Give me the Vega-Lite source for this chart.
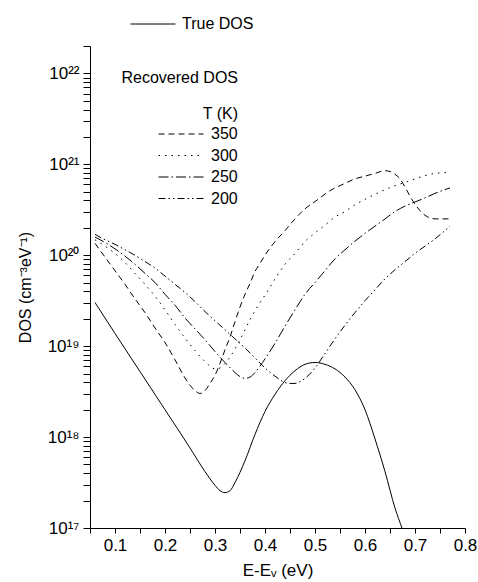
{
  "$schema": "https://vega.github.io/schema/vega-lite/v6.json",
  "width": 375,
  "height": 482,
  "autosize": "none",
  "padding": {"left": 90, "top": 46, "right": 13, "bottom": 54},
  "background": "white",
  "config": {
    "view": {"stroke": null},
    "font": "Liberation Sans",
    "legend": {"labelFont": "Liberation Sans", "titleFont": "Liberation Sans", "labelFontSize": 16, "titleFontSize": 16, "titleFontWeight": "normal", "labelColor": "black", "titleColor": "black"}
  },
  "data": {"values": [
    {"series": "True DOS", "E": 0.06, "DOS": 3.02e19},
    {"series": "True DOS", "E": 0.10, "DOS": 1.38e19},
    {"series": "True DOS", "E": 0.15, "DOS": 5.25e18},
    {"series": "True DOS", "E": 0.20, "DOS": 2.00e18},
    {"series": "True DOS", "E": 0.25, "DOS": 7.59e17},
    {"series": "True DOS", "E": 0.28, "DOS": 4.17e17},
    {"series": "True DOS", "E": 0.30, "DOS": 2.95e17},
    {"series": "True DOS", "E": 0.31, "DOS": 2.57e17},
    {"series": "True DOS", "E": 0.32, "DOS": 2.45e17},
    {"series": "True DOS", "E": 0.33, "DOS": 2.57e17},
    {"series": "True DOS", "E": 0.34, "DOS": 3.16e17},
    {"series": "True DOS", "E": 0.36, "DOS": 5.50e17},
    {"series": "True DOS", "E": 0.38, "DOS": 1.07e18},
    {"series": "True DOS", "E": 0.40, "DOS": 1.91e18},
    {"series": "True DOS", "E": 0.42, "DOS": 2.95e18},
    {"series": "True DOS", "E": 0.44, "DOS": 4.17e18},
    {"series": "True DOS", "E": 0.46, "DOS": 5.37e18},
    {"series": "True DOS", "E": 0.48, "DOS": 6.31e18},
    {"series": "True DOS", "E": 0.50, "DOS": 6.61e18},
    {"series": "True DOS", "E": 0.52, "DOS": 6.31e18},
    {"series": "True DOS", "E": 0.54, "DOS": 5.62e18},
    {"series": "True DOS", "E": 0.56, "DOS": 4.57e18},
    {"series": "True DOS", "E": 0.58, "DOS": 3.31e18},
    {"series": "True DOS", "E": 0.60, "DOS": 2.00e18},
    {"series": "True DOS", "E": 0.62, "DOS": 9.55e17},
    {"series": "True DOS", "E": 0.64, "DOS": 4.17e17},
    {"series": "True DOS", "E": 0.66, "DOS": 1.66e17},
    {"series": "True DOS", "E": 0.674, "DOS": 1.0e17},

    {"series": "350", "E": 0.06, "DOS": 1.35e20},
    {"series": "350", "E": 0.08, "DOS": 9.55e19},
    {"series": "350", "E": 0.10, "DOS": 6.76e19},
    {"series": "350", "E": 0.12, "DOS": 4.79e19},
    {"series": "350", "E": 0.14, "DOS": 3.31e19},
    {"series": "350", "E": 0.16, "DOS": 2.34e19},
    {"series": "350", "E": 0.18, "DOS": 1.585e19},
    {"series": "350", "E": 0.20, "DOS": 1.096e19},
    {"series": "350", "E": 0.22, "DOS": 7.08e18},
    {"series": "350", "E": 0.24, "DOS": 4.47e18},
    {"series": "350", "E": 0.25, "DOS": 3.72e18},
    {"series": "350", "E": 0.26, "DOS": 3.24e18},
    {"series": "350", "E": 0.27, "DOS": 3.02e18},
    {"series": "350", "E": 0.28, "DOS": 3.24e18},
    {"series": "350", "E": 0.29, "DOS": 3.89e18},
    {"series": "350", "E": 0.30, "DOS": 4.79e18},
    {"series": "350", "E": 0.31, "DOS": 6.46e18},
    {"series": "350", "E": 0.32, "DOS": 9.12e18},
    {"series": "350", "E": 0.33, "DOS": 1.259e19},
    {"series": "350", "E": 0.34, "DOS": 1.862e19},
    {"series": "350", "E": 0.35, "DOS": 2.69e19},
    {"series": "350", "E": 0.36, "DOS": 3.72e19},
    {"series": "350", "E": 0.37, "DOS": 4.90e19},
    {"series": "350", "E": 0.38, "DOS": 6.61e19},
    {"series": "350", "E": 0.39, "DOS": 8.13e19},
    {"series": "350", "E": 0.40, "DOS": 1.00e20},
    {"series": "350", "E": 0.42, "DOS": 1.413e20},
    {"series": "350", "E": 0.44, "DOS": 1.862e20},
    {"series": "350", "E": 0.46, "DOS": 2.51e20},
    {"series": "350", "E": 0.48, "DOS": 3.24e20},
    {"series": "350", "E": 0.50, "DOS": 3.89e20},
    {"series": "350", "E": 0.53, "DOS": 5.13e20},
    {"series": "350", "E": 0.56, "DOS": 6.17e20},
    {"series": "350", "E": 0.58, "DOS": 6.92e20},
    {"series": "350", "E": 0.60, "DOS": 7.41e20},
    {"series": "350", "E": 0.62, "DOS": 7.94e20},
    {"series": "350", "E": 0.64, "DOS": 8.51e20},
    {"series": "350", "E": 0.65, "DOS": 8.32e20},
    {"series": "350", "E": 0.66, "DOS": 7.76e20},
    {"series": "350", "E": 0.67, "DOS": 6.92e20},
    {"series": "350", "E": 0.68, "DOS": 5.62e20},
    {"series": "350", "E": 0.69, "DOS": 4.47e20},
    {"series": "350", "E": 0.70, "DOS": 3.63e20},
    {"series": "350", "E": 0.71, "DOS": 3.09e20},
    {"series": "350", "E": 0.72, "DOS": 2.75e20},
    {"series": "350", "E": 0.74, "DOS": 2.51e20},
    {"series": "350", "E": 0.77, "DOS": 2.51e20},

    {"series": "300", "E": 0.06, "DOS": 1.479e20},
    {"series": "300", "E": 0.08, "DOS": 1.259e20},
    {"series": "300", "E": 0.10, "DOS": 1.047e20},
    {"series": "300", "E": 0.12, "DOS": 8.32e19},
    {"series": "300", "E": 0.14, "DOS": 6.31e19},
    {"series": "300", "E": 0.16, "DOS": 4.79e19},
    {"series": "300", "E": 0.18, "DOS": 3.55e19},
    {"series": "300", "E": 0.20, "DOS": 2.51e19},
    {"series": "300", "E": 0.22, "DOS": 1.738e19},
    {"series": "300", "E": 0.24, "DOS": 1.23e19},
    {"series": "300", "E": 0.26, "DOS": 8.91e18},
    {"series": "300", "E": 0.28, "DOS": 6.76e18},
    {"series": "300", "E": 0.29, "DOS": 6.03e18},
    {"series": "300", "E": 0.30, "DOS": 5.62e18},
    {"series": "300", "E": 0.31, "DOS": 5.75e18},
    {"series": "300", "E": 0.32, "DOS": 6.46e18},
    {"series": "300", "E": 0.33, "DOS": 7.59e18},
    {"series": "300", "E": 0.35, "DOS": 1.175e19},
    {"series": "300", "E": 0.37, "DOS": 1.95e19},
    {"series": "300", "E": 0.39, "DOS": 3.02e19},
    {"series": "300", "E": 0.40, "DOS": 3.63e19},
    {"series": "300", "E": 0.42, "DOS": 5.50e19},
    {"series": "300", "E": 0.44, "DOS": 7.94e19},
    {"series": "300", "E": 0.46, "DOS": 1.047e20},
    {"series": "300", "E": 0.48, "DOS": 1.413e20},
    {"series": "300", "E": 0.50, "DOS": 1.76e20},
    {"series": "300", "E": 0.52, "DOS": 2.14e20},
    {"series": "300", "E": 0.54, "DOS": 2.63e20},
    {"series": "300", "E": 0.56, "DOS": 3.02e20},
    {"series": "300", "E": 0.58, "DOS": 3.59e20},
    {"series": "300", "E": 0.60, "DOS": 4.12e20},
    {"series": "300", "E": 0.62, "DOS": 4.68e20},
    {"series": "300", "E": 0.64, "DOS": 5.25e20},
    {"series": "300", "E": 0.66, "DOS": 5.82e20},
    {"series": "300", "E": 0.68, "DOS": 6.31e20},
    {"series": "300", "E": 0.70, "DOS": 6.92e20},
    {"series": "300", "E": 0.72, "DOS": 7.50e20},
    {"series": "300", "E": 0.74, "DOS": 7.94e20},
    {"series": "300", "E": 0.77, "DOS": 8.13e20},

    {"series": "250", "E": 0.06, "DOS": 1.585e20},
    {"series": "250", "E": 0.08, "DOS": 1.38e20},
    {"series": "250", "E": 0.10, "DOS": 1.175e20},
    {"series": "250", "E": 0.12, "DOS": 9.77e19},
    {"series": "250", "E": 0.14, "DOS": 7.94e19},
    {"series": "250", "E": 0.16, "DOS": 6.31e19},
    {"series": "250", "E": 0.18, "DOS": 5.01e19},
    {"series": "250", "E": 0.20, "DOS": 3.72e19},
    {"series": "250", "E": 0.22, "DOS": 2.82e19},
    {"series": "250", "E": 0.24, "DOS": 2.04e19},
    {"series": "250", "E": 0.26, "DOS": 1.55e19},
    {"series": "250", "E": 0.28, "DOS": 1.175e19},
    {"series": "250", "E": 0.30, "DOS": 8.71e18},
    {"series": "250", "E": 0.32, "DOS": 6.61e18},
    {"series": "250", "E": 0.34, "DOS": 5.13e18},
    {"series": "250", "E": 0.35, "DOS": 4.62e18},
    {"series": "250", "E": 0.36, "DOS": 4.42e18},
    {"series": "250", "E": 0.37, "DOS": 4.57e18},
    {"series": "250", "E": 0.38, "DOS": 5.13e18},
    {"series": "250", "E": 0.39, "DOS": 6.03e18},
    {"series": "250", "E": 0.40, "DOS": 7.24e18},
    {"series": "250", "E": 0.42, "DOS": 1.072e19},
    {"series": "250", "E": 0.44, "DOS": 1.66e19},
    {"series": "250", "E": 0.46, "DOS": 2.51e19},
    {"series": "250", "E": 0.48, "DOS": 3.72e19},
    {"series": "250", "E": 0.50, "DOS": 5.01e19},
    {"series": "250", "E": 0.52, "DOS": 6.76e19},
    {"series": "250", "E": 0.54, "DOS": 9.12e19},
    {"series": "250", "E": 0.56, "DOS": 1.148e20},
    {"series": "250", "E": 0.58, "DOS": 1.43e20},
    {"series": "250", "E": 0.60, "DOS": 1.738e20},
    {"series": "250", "E": 0.62, "DOS": 2.09e20},
    {"series": "250", "E": 0.64, "DOS": 2.51e20},
    {"series": "250", "E": 0.66, "DOS": 3.02e20},
    {"series": "250", "E": 0.68, "DOS": 3.47e20},
    {"series": "250", "E": 0.70, "DOS": 3.85e20},
    {"series": "250", "E": 0.72, "DOS": 4.27e20},
    {"series": "250", "E": 0.74, "DOS": 4.79e20},
    {"series": "250", "E": 0.77, "DOS": 5.50e20},

    {"series": "200", "E": 0.06, "DOS": 1.698e20},
    {"series": "200", "E": 0.08, "DOS": 1.479e20},
    {"series": "200", "E": 0.10, "DOS": 1.318e20},
    {"series": "200", "E": 0.12, "DOS": 1.148e20},
    {"series": "200", "E": 0.14, "DOS": 1.00e20},
    {"series": "200", "E": 0.16, "DOS": 8.51e19},
    {"series": "200", "E": 0.18, "DOS": 7.24e19},
    {"series": "200", "E": 0.20, "DOS": 5.89e19},
    {"series": "200", "E": 0.22, "DOS": 4.79e19},
    {"series": "200", "E": 0.24, "DOS": 3.89e19},
    {"series": "200", "E": 0.26, "DOS": 3.09e19},
    {"series": "200", "E": 0.28, "DOS": 2.40e19},
    {"series": "200", "E": 0.30, "DOS": 1.905e19},
    {"series": "200", "E": 0.32, "DOS": 1.514e19},
    {"series": "200", "E": 0.34, "DOS": 1.202e19},
    {"series": "200", "E": 0.36, "DOS": 9.55e18},
    {"series": "200", "E": 0.38, "DOS": 7.41e18},
    {"series": "200", "E": 0.40, "DOS": 5.75e18},
    {"series": "200", "E": 0.42, "DOS": 4.68e18},
    {"series": "200", "E": 0.44, "DOS": 3.98e18},
    {"series": "200", "E": 0.45, "DOS": 3.89e18},
    {"series": "200", "E": 0.46, "DOS": 3.89e18},
    {"series": "200", "E": 0.47, "DOS": 4.07e18},
    {"series": "200", "E": 0.48, "DOS": 4.42e18},
    {"series": "200", "E": 0.50, "DOS": 5.75e18},
    {"series": "200", "E": 0.52, "DOS": 8.32e18},
    {"series": "200", "E": 0.54, "DOS": 1.202e19},
    {"series": "200", "E": 0.56, "DOS": 1.698e19},
    {"series": "200", "E": 0.58, "DOS": 2.34e19},
    {"series": "200", "E": 0.60, "DOS": 3.16e19},
    {"series": "200", "E": 0.62, "DOS": 4.17e19},
    {"series": "200", "E": 0.64, "DOS": 5.50e19},
    {"series": "200", "E": 0.66, "DOS": 6.92e19},
    {"series": "200", "E": 0.68, "DOS": 8.51e19},
    {"series": "200", "E": 0.70, "DOS": 1.047e20},
    {"series": "200", "E": 0.72, "DOS": 1.259e20},
    {"series": "200", "E": 0.74, "DOS": 1.514e20},
    {"series": "200", "E": 0.77, "DOS": 2.09e20}
  ]},
  "encoding": {
    "x": {
      "field": "E", "type": "quantitative",
      "scale": {"domain": [0.05, 0.8], "nice": false, "zero": false},
      "axis": {
        "title": "E-Eᵥ (eV)",
        "titleFont": "Liberation Sans", "titleFontWeight": "normal", "titleColor": "black",
        "titleFontSize": 17,
        "titlePadding": 9,
        "grid": false,
        "domainColor": "black",
        "values": [0.05, 0.1, 0.15, 0.2, 0.25, 0.3, 0.35, 0.4, 0.45, 0.5, 0.55, 0.6, 0.65, 0.7, 0.75, 0.8],
        "labelExpr": "abs(datum.value*10 - round(datum.value*10)) < 1e-6 ? format(datum.value, '.1f') : ''",
        "labelFont": "Liberation Sans", "labelColor": "black",
        "labelFontSize": 17,
        "labelPadding": 4,
        "labelFlush": false,
        "labelOverlap": false,
        "ticks": true,
        "tickColor": "black",
        "tickSize": 5,
        "tickWidth": 1,
        "encode": {"ticks": {"update": {"y2": {"signal": "abs(datum.value*10 - round(datum.value*10)) < 1e-6 ? 5 : 3"}}}}
      }
    },
    "y": {
      "field": "DOS", "type": "quantitative",
      "scale": {"type": "log", "domain": [1e17, 2e22], "nice": false},
      "axis": {
        "title": "DOS (cm⁻³eV⁻¹)",
        "titleFont": "Liberation Sans", "titleFontWeight": "normal", "titleColor": "black",
        "titleFontSize": 16,
        "titlePadding": 14,
        "grid": false,
        "domainColor": "black",
        "values": [1e17, 2e17, 3e17, 4e17, 5e17, 6e17, 7e17, 8e17, 9e17, 1e18, 2e18, 3e18, 4e18, 5e18, 6e18, 7e18, 8e18, 9e18, 1e19, 2e19, 3e19, 4e19, 5e19, 6e19, 7e19, 8e19, 9e19, 1e20, 2e20, 3e20, 4e20, 5e20, 6e20, 7e20, 8e20, 9e20, 1e21, 2e21, 3e21, 4e21, 5e21, 6e21, 7e21, 8e21, 9e21, 1e22, 2e22],
        "labelExpr": "abs(log(datum.value)/LN10 - round(log(datum.value)/LN10)) < 1e-6 ? '10' + ['¹⁷','¹⁸','¹⁹','²⁰','²¹','²²'][round(log(datum.value)/LN10) - 17] : ''",
        "labelFont": "Liberation Sans", "labelColor": "black",
        "labelFontSize": 17,
        "labelPadding": 4,
        "labelFlush": false,
        "labelOverlap": false,
        "ticks": true,
        "tickColor": "black",
        "tickSize": 7,
        "tickWidth": 1,
        "encode": {"ticks": {"update": {"x2": {"signal": "abs(log(datum.value)/LN10 - round(log(datum.value)/LN10)) < 1e-6 ? -7 : -4"}}}}
      }
    }
  },
  "layer": [
    {
      "transform": [{"filter": "datum.series == 'True DOS'"}],
      "mark": {"type": "line", "interpolate": "monotone", "strokeWidth": 1, "clip": true},
      "encoding": {
        "color": {
          "field": "series", "type": "nominal",
          "scale": {"domain": ["True DOS"], "range": ["black"]},
          "legend": {
            "orient": "none", "legendX": 40, "legendY": -30, "title": null,
            "symbolType": "stroke", "symbolSize": 2025, "symbolStrokeWidth": 1,
            "clipHeight": 16, "labelOffset": 6, "padding": 0
          }
        }
      }
    },
    {
      "transform": [{"filter": "datum.series != 'True DOS'"}],
      "mark": {"type": "line", "interpolate": "monotone", "strokeWidth": 1, "color": "black", "clip": true},
      "encoding": {
        "strokeDash": {
          "field": "series", "type": "nominal",
          "scale": {"domain": ["350", "300", "250", "200"], "range": [[6, 4], [1.5, 5], [10, 3, 1.5, 3], [7, 3, 1.5, 3, 1.5, 3]]},
          "legend": {
            "orient": "none", "legendX": 32, "legendY": 24,
            "title": ["Recovered DOS", "T (K)"],
            "titleAnchor": "end", "titleAlign": "right", "titleLineHeight": 36, "titlePadding": 4,
            "symbolType": "stroke", "symbolSize": 2025, "symbolStrokeWidth": 1, "symbolStrokeColor": "black",
            "clipHeight": 16, "rowPadding": 5.5, "labelOffset": 7, "padding": 0
          }
        }
      }
    }
  ]
}
